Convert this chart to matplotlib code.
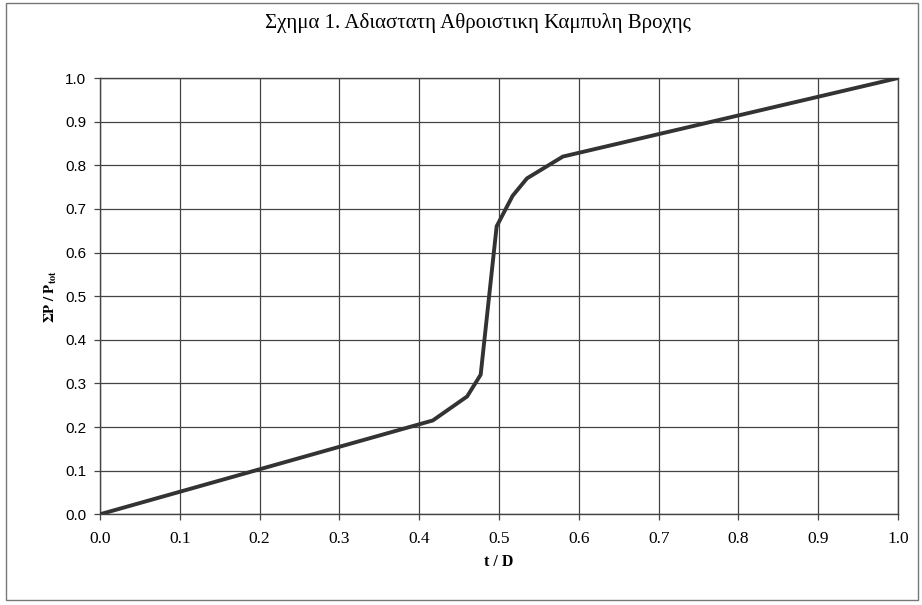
import matplotlib
matplotlib.use("Agg")
import matplotlib.pyplot as plt
from matplotlib.patches import Rectangle

# dimensionless cumulative rainfall curve
t_D = [0.0, 0.417, 0.46, 0.477, 0.497, 0.517, 0.535, 0.58, 1.0]
P_ratio = [0.0, 0.215, 0.27, 0.32, 0.66, 0.73, 0.77, 0.82, 1.0]

x_ticks = [0.0, 0.1, 0.2, 0.3, 0.4, 0.5, 0.6, 0.7, 0.8, 0.9, 1.0]
y_ticks = [0.0, 0.1, 0.2, 0.3, 0.4, 0.5, 0.6, 0.7, 0.8, 0.9, 1.0]

title = "Σχημα 1. Αδιαστατη Αθροιστικη Καμπυλη Βροχης"

plt.rcParams["font.family"] = ["Liberation Serif", "DejaVu Serif"]
plt.rcParams["mathtext.fontset"] = "stix"

fig = plt.figure(figsize=(9.22, 6.05), dpi=100)
ax = fig.add_axes([0.1085, 0.150, 0.8655, 0.721])

# scanned page border
fig.add_artist(Rectangle((0.006, 0.008), 0.99, 0.987, transform=fig.transFigure,
                         fill=False, edgecolor="#777777", linewidth=1.0))

ax.plot(t_D, P_ratio, color="#333333", linewidth=2.8, solid_joinstyle="round", zorder=3)

ax.set_xlim(0, 1)
ax.set_ylim(0, 1)
ax.set_xticks(x_ticks)
ax.set_yticks(y_ticks)
ax.set_xticklabels([f"{v:.1f}" for v in x_ticks], fontsize=12.5)
ax.set_yticklabels([f"{v:.1f}" for v in y_ticks], fontsize=11,
                   family=["Liberation Sans", "DejaVu Sans"])
ax.grid(True, color="#444444", linewidth=0.9)
ax.tick_params(direction="out", length=4, width=0.9, color="#444444", pad=6)
ax.tick_params(axis="x", pad=8)
for s in ax.spines.values():
    s.set_color("#444444")
    s.set_linewidth(1.0)

ax.set_xlabel("t / D", fontsize=11.5, fontweight="bold", labelpad=5)
ax.set_ylabel(r"$\mathbf{\Sigma P\ /\ P_{tot}}$", fontsize=10.5, labelpad=4)
fig.text(0.518, 0.962, title, ha="center", va="center", fontsize=15)

fig.savefig("out.png", dpi=100)
